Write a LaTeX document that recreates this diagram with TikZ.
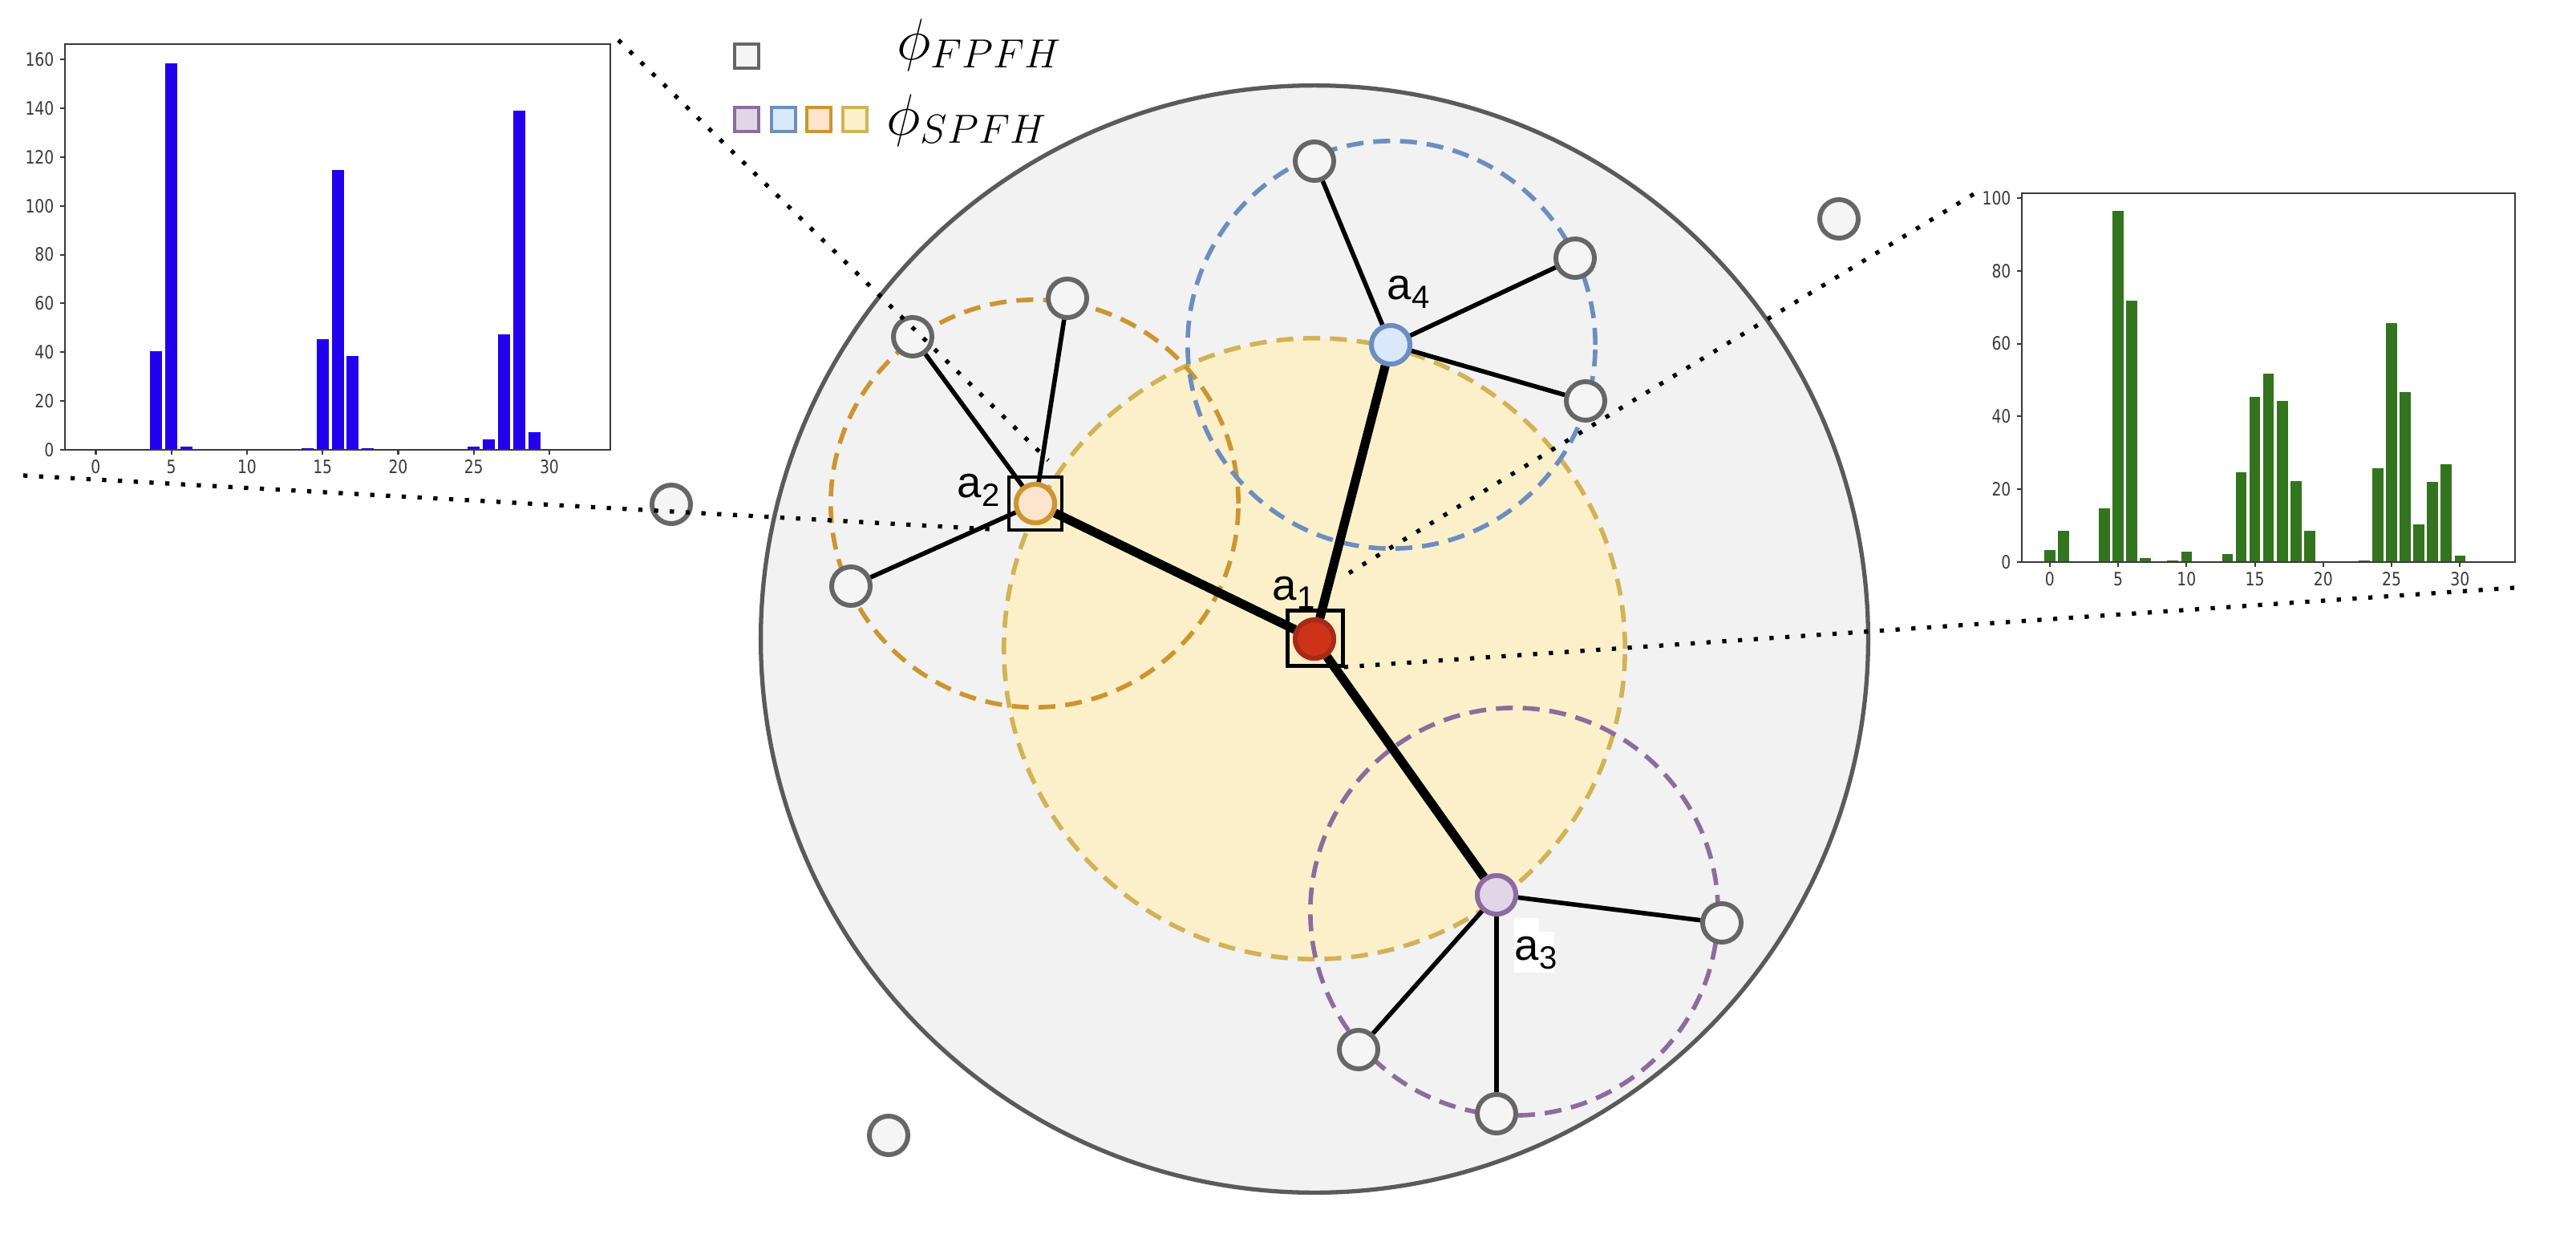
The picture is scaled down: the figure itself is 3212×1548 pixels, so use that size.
\documentclass[tikz,border=0pt]{standalone}
\usepackage{fontspec}
\setmainfont{Liberation Sans}
\newfontfamily\lab{Liberation Sans}
\newfontfamily\tickfont[FakeStretch=0.82]{DejaVu Sans}
\definecolor{gfill}{HTML}{F5F5F5}
\definecolor{gline}{HTML}{666666}
\definecolor{bigfill}{HTML}{F2F2F2}
\definecolor{bigline}{HTML}{5A5A5A}
\definecolor{yfill}{HTML}{FCF0CA}
\definecolor{yline}{HTML}{D3B257}
\definecolor{ofill}{HTML}{FDE4CD}
\definecolor{oline}{HTML}{CD9530}
\definecolor{bfill}{HTML}{DAE8FC}
\definecolor{bline}{HTML}{6C8EBF}
\definecolor{pfill}{HTML}{E1D5E7}
\definecolor{pline}{HTML}{8C6C9E}
\definecolor{rfill}{HTML}{CC3319}
\definecolor{rline}{HTML}{A82A14}
\definecolor{histblue}{HTML}{2200EE}
\definecolor{histgreen}{HTML}{33741F}
\definecolor{axgray}{HTML}{3A3A3A}
\newcommand{\sublab}[1]{a\raisebox{-3.4pt}{\fontsize{11.4}{13}\selectfont #1}}
\begin{document}
\begin{tikzpicture}[x=0.01cm, y=-0.01cm,
  gnode/.style={circle, draw=gline, fill=gfill, line width=1.7pt, minimum size=0.48cm, inner sep=0},
  anode/.style={circle, line width=1.7pt, minimum size=0.48cm, inner sep=0},
  thinedge/.style={line width=1.6pt, black},
  thickedge/.style={line width=3.2pt, black},
  dashcirc/.style={circle, line width=1.6pt, dash pattern=on 6pt off 3.5pt, inner sep=0, minimum size=5.08cm},
  sqbox/.style={rectangle, draw=black, line width=1.3pt, inner sep=0},
  zoomline/.style={line width=1.5pt, dash pattern=on 1.5pt off 4.1pt},
  legsq/.style={rectangle, line width=1.4pt, minimum size=0.30cm, inner sep=0},
  alabel/.style={anchor=base west, inner sep=0, font=\lab\fontsize{15.5}{18}\selectfont},
  ticklab/.style={inner sep=0, text=axgray, font=\tickfont\fontsize{6.5}{7}\selectfont}]
\useasboundingbox (0,0) rectangle (3212,1548);
\fill[white] (0,0) rectangle (3212,1548);

% regions
\node[circle, draw=bigline, fill=bigfill, line width=1.5pt, minimum size=13.8cm, inner sep=0] (big) at (1639,797) {};
\node[circle, fill=yfill, minimum size=7.74cm, inner sep=0] (yreg) at (1639,809) {};
\node[dashcirc, draw=yline, minimum size=7.74cm] (ycirc) at (1639,809) {};
\node[dashcirc, draw=oline] (ocirc) at (1290,628) {};
\node[dashcirc, draw=bline] (bcirc) at (1735,430) {};
\node[dashcirc, draw=pline] (pcirc) at (1888,1137) {};

% nodes
\node[anode, fill=rfill, draw=rline] (a1) at (1639,797) {};
\node[anode, fill=ofill, draw=oline] (a2) at (1291,628) {};
\node[anode, fill=pfill, draw=pline] (a3) at (1866,1116) {};
\node[anode, fill=bfill, draw=bline] (a4) at (1734,430) {};
\node[gnode] (g1) at (1639,201) {};
\node[gnode] (g2) at (1964,322) {};
\node[gnode] (g3) at (1977,500) {};
\node[gnode] (g4) at (1331,372) {};
\node[gnode] (g5) at (1138,420) {};
\node[gnode] (g6) at (1061,731) {};
\node[gnode] (g7) at (837,629) {};
\node[gnode] (g8) at (2293,273) {};
\node[gnode] (g9) at (2147,1151) {};
\node[gnode] (g10) at (1694,1309) {};
\node[gnode] (g11) at (1866,1389) {};
\node[gnode] (g12) at (1108,1416) {};

% edges
\draw[thinedge] (a2) -- (g5);
\draw[thinedge] (a2) -- (g4);
\draw[thinedge] (a2) -- (g6);
\draw[thinedge] (a4) -- (g1);
\draw[thinedge] (a4) -- (g2);
\draw[thinedge] (a4) -- (g3);
\draw[thinedge] (a3) -- (g9);
\draw[thinedge] (a3) -- (g10);
\draw[thinedge] (a3) -- (g11);
\draw[thickedge] (a1) -- (a2);
\draw[thickedge] (a1) -- (a4);
\draw[thickedge] (a1) -- (a3);

% redraw node bodies over edges
\node[anode, fill=rfill, draw=rline] at (a1) {};
\node[anode, fill=ofill, draw=oline] at (a2) {};
\node[anode, fill=pfill, draw=pline] at (a3) {};
\node[anode, fill=bfill, draw=bline] at (a4) {};

% squares
\node[sqbox, minimum size=0.66cm] (s2) at (1291,628) {};
\node[sqbox, minimum size=0.69cm] (s1) at (1640,796) {};

% labels
\node[alabel] (l1) at (1586,748) {\sublab{1}};
\node[alabel] (l2) at (1193,620) {\sublab{2}};
\node[alabel] (l4) at (1729,373) {\sublab{4}};
\fill[white] (1888,1145) rectangle (1919,1213);
\fill[white] (1919,1162) rectangle (1938,1213);
\node[alabel] (l3) at (1888,1197) {\sublab{3}};

% zoom lines
\coordinate (d1s) at (771,50);  \coordinate (d1e) at (1307,574);
\coordinate (d2s) at (29,593);  \coordinate (d2e) at (1235,660);
\coordinate (d3s) at (2461,242); \coordinate (d3e) at (1670,722);
\coordinate (d4s) at (3135,733); \coordinate (d4e) at (1674,832);
\draw[zoomline] (d1s) -- (d1e);
\draw[zoomline] (d2s) -- (d2e);
\draw[zoomline] (d3s) -- (d3e);
\draw[zoomline] (d4s) -- (d4e);

% legend
\node[legsq, fill=gfill, draw=gline] (lg0) at (931,70) {};
\node[legsq, fill=pfill, draw=pline] (lg1) at (931,149) {};
\node[legsq, fill=bfill, draw=bline] (lg2) at (977,149) {};
\node[legsq, fill=ofill, draw=oline] (lg3) at (1021,149) {};
\node[legsq, fill=yfill, draw=yline] (lg4) at (1066,149) {};
\node[anchor=base west, inner sep=0] (lt1) at (1118,74) {\fontsize{20}{24}\selectfont$\phi_{FPFH}$};
\node[anchor=base west, inner sep=0] (lt2) at (1105,168) {\fontsize{20}{24}\selectfont$\phi_{SPFH}$};

% left histogram
\begin{scope}[shift={(119.45,561)}, xscale=18.85, yscale=-3.043]
  \foreach \i/\v in {4/40.4,5/158.4,6/1.4,14/0.6,15/45.4,16/114.7,17/38.6,18/0.6,25/1.4,26/4.4,27/47.2,28/138.9,29/7.3}
    \fill[histblue] (\i-0.4,0) rectangle (\i+0.4,\v);
  \draw[axgray, line width=0.6pt] (-2.04,0) rectangle (34.04,166.3);
  \foreach \t in {0,5,...,30} {
    \draw[axgray, line width=0.6pt] (\t,0) -- (\t,-1.97);
    \node[ticklab] at (\t,-6.9) {\t};
  }
  \foreach \t in {0,20,...,160} {
    \draw[axgray, line width=0.6pt] (-2.04,\t) -- (-2.36,\t);
    \node[ticklab, anchor=east] at (-2.73,\t) {\t};
  }
\end{scope}

% right histogram
\begin{scope}[shift={(2555.8,701)}, xscale=17.05, yscale=-4.54]
  \foreach \i/\v in {0/3.3,1/8.7,4/14.7,5/96.5,6/71.8,7/1.0,9/0.5,10/2.9,12/0.2,13/2.1,14/24.6,15/45.4,16/51.8,17/44.3,18/22.2,19/8.7,23/0.4,24/25.7,25/65.7,26/46.6,27/10.4,28/22.0,29/26.8,30/1.8}
    \fill[histgreen] (\i-0.4,0) rectangle (\i+0.4,\v);
  \draw[axgray, line width=0.6pt] (-2.04,0) rectangle (34.04,101.3);
  \foreach \t in {0,5,...,30} {
    \draw[axgray, line width=0.6pt] (\t,0) -- (\t,-1.32);
    \node[ticklab] at (\t,-4.63) {\t};
  }
  \foreach \t in {0,20,...,100} {
    \draw[axgray, line width=0.6pt] (-2.04,\t) -- (-2.39,\t);
    \node[ticklab, anchor=east] at (-2.8,\t) {\t};
  }
\end{scope}
\end{tikzpicture}
\end{document}
